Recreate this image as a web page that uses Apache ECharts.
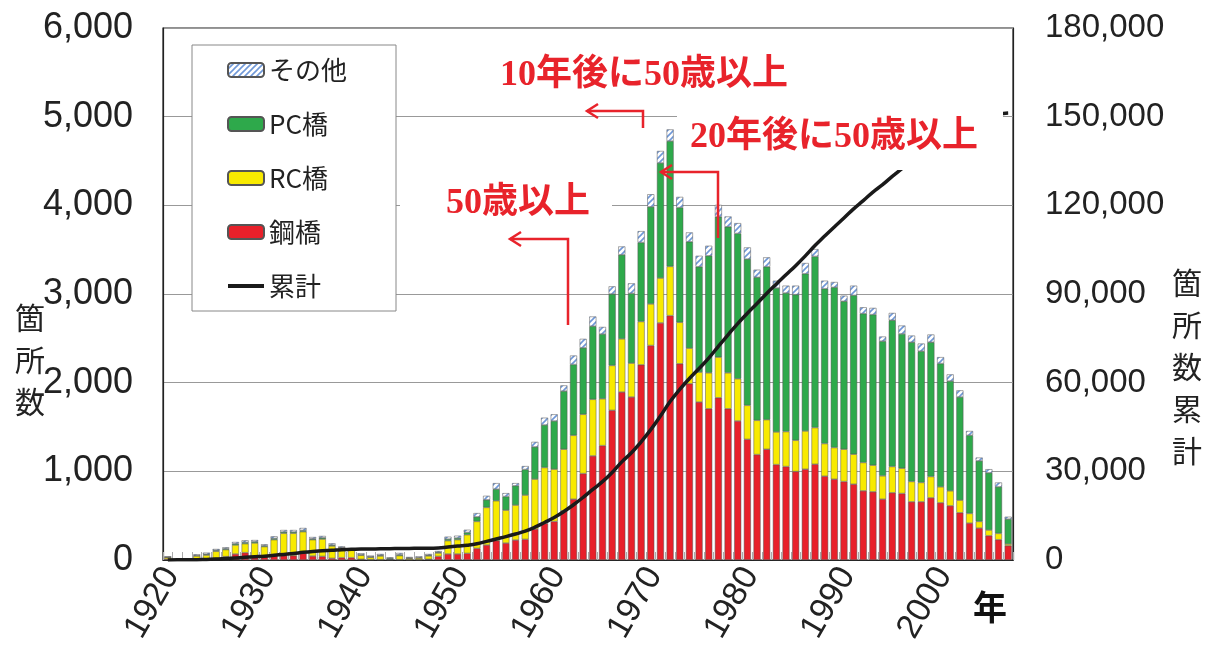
<!DOCTYPE html>
<html>
<head>
<meta charset="utf-8">
<script src="https://cdn.jsdelivr.net/npm/echarts@6/dist/echarts.min.js"></script>
<style>
  html, body { margin: 0; background: #fff; }
  #chart { width: 1209px; height: 648px; }
</style>
</head>
<body>
<div id="chart"></div>
<script>
// 建設年
const years = [
  "1920","1921","1922","1923","1924","1925","1926","1927","1928","1929",
  "1930","1931","1932","1933","1934","1935","1936","1937","1938","1939",
  "1940","1941","1942","1943","1944","1945","1946","1947","1948","1949",
  "1950","1951","1952","1953","1954","1955","1956","1957","1958","1959",
  "1960","1961","1962","1963","1964","1965","1966","1967","1968","1969",
  "1970","1971","1972","1973","1974","1975","1976","1977","1978","1979",
  "1980","1981","1982","1983","1984","1985","1986","1987","1988","1989",
  "1990","1991","1992","1993","1994","1995","1996","1997","1998","1999",
  "2000","2001","2002","2003","2004","2005","2006","2007"
];

// 鋼橋
const steel = [
  10, 0, 1, 8, 10, 19, 38, 68, 83, 34,
  38, 49, 49, 49, 75, 45, 41, 19, 26, 26,
  8, 4, 4, 4, 4, 4, 4, 8, 41, 68,
  68, 75, 131, 169, 218, 191, 225, 233, 349, 413,
  435, 555, 686, 975, 1174, 1290, 1688, 1894, 1838, 2201,
  2419, 2674, 2756, 2213, 1988, 1781, 1706, 1830, 1706, 1568,
  1361, 1189, 1249, 1076, 1054, 998, 1024, 1080, 945, 911,
  885, 855, 780, 769, 686, 758, 750, 656, 656, 701,
  645, 611, 533, 416, 360, 274, 229, 161
];

// RC橋
const rc = [
  20, 2, 1, 38, 45, 79, 79, 101, 101, 158,
  113, 180, 252, 252, 244, 184, 195, 139, 113, 83,
  45, 26, 41, 4, 45, 15, 19, 38, 38, 150,
  161, 210, 304, 424, 450, 371, 394, 499, 563, 630,
  589, 694, 720, 668, 638, 528, 506, 600, 382, 488,
  469, 506, 555, 468, 401, 338, 405, 458, 405, 476,
  383, 386, 334, 368, 394, 352, 431, 413, 368, 357,
  364, 338, 319, 300, 263, 296, 285, 229, 218, 240,
  180, 169, 142, 109, 75, 64, 71, 19
];

// PC橋
const pc = [
  2, 0, 0, 4, 10, 11, 11, 15, 15, 15,
  11, 15, 15, 15, 15, 11, 15, 11, 0, 0,
  8, 8, 8, 11, 11, 4, 4, 8, 8, 18,
  19, 26, 52, 86, 131, 154, 218, 289, 364, 480,
  544, 656, 799, 750, 825, 730, 806, 948, 787, 892,
  1095, 1298, 1414, 1294, 1200, 1189, 1320, 1582, 1647, 1639,
  1650, 1613, 1725, 1624, 1563, 1643, 1774, 1931, 1747, 1807,
  1669, 1792, 1680, 1699, 1519, 1650, 1515, 1571, 1481, 1515,
  1391, 1238, 1163, 881, 683, 645, 525, 281
];

// その他
const other = [
  9, 3, 3, 14, 18, 15, 15, 19, 23, 18,
  15, 23, 22, 22, 27, 19, 20, 19, 15, 15,
  14, 11, 15, 11, 19, 11, 14, 14, 14, 27,
  26, 30, 42, 45, 68, 38, 30, 38, 56, 82,
  75, 64, 101, 101, 109, 80, 86, 94, 113, 128,
  142, 135, 131, 120, 105, 123, 113, 135, 116, 116,
  131, 86, 105, 82, 83, 101, 120, 82, 90, 60,
  63, 109, 71, 75, 52, 82, 94, 75, 86, 87,
  72, 75, 75, 49, 37, 41, 49, 27
];

// 累計
const cumulative = [
  0, 100, 100, 100, 200, 300, 500, 700, 900, 1100,
  1300, 1600, 1900, 2200, 2600, 2900, 3100, 3300, 3500, 3600,
  3700, 3700, 3800, 3800, 3900, 3900, 4000, 4000, 4100, 4400,
  4700, 5000, 5500, 6300, 7100, 7900, 8800, 9800, 11100, 12700,
  14400, 16400, 18700, 21200, 23900, 26500, 29600, 33200, 36300, 40000,
  44100, 48700, 53600, 57700, 61400, 64800, 68300, 72300, 76200, 80000,
  83500, 86800, 90200, 93400, 96500, 99600, 102900, 106400, 109600, 112700,
  115700, 118800, 121600, 124500, 127000, 129800, 132400, 135000, 137400, 140000,
  142200, 144300, 146200, 147700, 148900, 149900, 150800, 151200
];

const RED = "#e8232b";
const NUM_FONT = '"Liberation Sans", Arial, sans-serif';
const JP_FONT = '"Noto Sans CJK JP", sans-serif';
const NOTE_FONT = 'bold 36px "Liberation Serif", "Noto Sans CJK JP", serif';

// 斜線パターン（その他）
function hatchPattern() {
  const c = document.createElement("canvas");
  c.width = 6;
  c.height = 6;
  const g = c.getContext("2d");
  g.fillStyle = "#ffffff";
  g.fillRect(0, 0, 6, 6);
  g.strokeStyle = "#6f98d8";
  g.lineWidth = 1.6;
  g.beginPath();
  g.moveTo(0, 6); g.lineTo(6, 0);
  g.moveTo(-3, 3); g.lineTo(3, -3);
  g.moveTo(3, 9); g.lineTo(9, 3);
  g.stroke();
  return { image: c, repeat: "repeat" };
}

function barSeries(name, data, color) {
  return {
    name: name,
    type: "bar",
    stack: "total",
    barWidth: 7,
    data: data,
    itemStyle: { color: color, borderColor: "#555", borderWidth: 0.5 },
    emphasis: { disabled: true },
  };
}

function arrow(points) {
  const head = points[points.length - 1];
  return [
    {
      type: "polyline",
      z: 100,
      shape: { points: points },
      style: { stroke: RED, lineWidth: 2.5, fill: null },
    },
    {
      type: "polyline",
      z: 100,
      shape: { points: [[head[0] + 11, head[1] - 7], head, [head[0] + 11, head[1] + 7]] },
      style: { stroke: RED, lineWidth: 2.5, fill: null },
    },
  ];
}

const myChart = echarts.init(document.getElementById("chart"));

const option = {
  animation: false,
  backgroundColor: "#fff",
  grid: {
    left: 163,
    right: 196,
    top: 28,
    bottom: 88,
    show: true,
    borderColor: "#222",
    borderWidth: 1.2,
  },
  legend: {
    orient: "vertical",
    left: 192,
    top: 45,
    padding: [12, 49, 12, 35],
    itemGap: 28,
    itemWidth: 36,
    itemHeight: 14,
    symbolKeepAspect: true,
    backgroundColor: "#fff",
    borderColor: "#888",
    borderWidth: 1,
    textStyle: { fontSize: 26, color: "#222", fontFamily: JP_FONT },
    data: [
      "その他",
      "PC橋",
      "RC橋",
      "鋼橋",
      { name: "累計", icon: "path://M0 0 L36 0 L36 4 L0 4 Z" },
    ],
  },
  xAxis: {
    type: "category",
    data: years,
    boundaryGap: true,
    axisLine: { lineStyle: { color: "#222", width: 1.2 } },
    axisTick: { show: true, inside: true, length: 8, interval: 0, lineStyle: { color: "#aaa" } },
    axisLabel: {
      interval: 9,
      rotate: 60,
      margin: 8,
      verticalAlign: "top",
      lineHeight: 8,
      fontSize: 34,
      color: "#222",
      fontFamily: NUM_FONT,
    },
  },
  yAxis: [
    {
      type: "value",
      min: 0,
      max: 6000,
      interval: 1000,
      axisLine: { show: true, lineStyle: { color: "#222", width: 1.2 } },
      axisTick: { show: false },
      splitLine: { lineStyle: { color: "#999" } },
      axisLabel: { fontSize: 36, margin: 30, color: "#222", fontFamily: NUM_FONT },
    },
    {
      type: "value",
      position: "right",
      min: 0,
      max: 180000,
      interval: 30000,
      axisLine: { show: true, lineStyle: { color: "#222", width: 1.2 } },
      axisTick: { show: false },
      splitLine: { show: false },
      axisLabel: { fontSize: 33, margin: 32, color: "#222", fontFamily: NUM_FONT },
    },
  ],
  series: [
    barSeries("鋼橋", steel, "#e8202a"),
    barSeries("RC橋", rc, "#f8ea00"),
    barSeries("PC橋", pc, "#2ea94b"),
    barSeries("その他", other, hatchPattern()),
    {
      name: "累計",
      type: "line",
      yAxisIndex: 1,
      data: cumulative,
      smooth: true,
      symbol: "none",
      z: 5,
      lineStyle: { color: "#1a1a1a", width: 3.5 },
      itemStyle: { color: "#1a1a1a" },
      emphasis: { disabled: true },
    },
  ],
  graphic: [
    // 注記の白地
    { type: "rect", z: 90, shape: { x: 677, y: 98, width: 326, height: 72 }, style: { fill: "#fff" } },
    { type: "rect", z: 90, shape: { x: 400, y: 184, width: 212, height: 40 }, style: { fill: "#fff" } },
    { type: "text", z: 100, x: 500, y: 58, style: { text: "10年後に50歳以上", font: NOTE_FONT, fill: RED, verticalAlign: "top" } },
    { type: "text", z: 100, x: 690, y: 120, style: { text: "20年後に50歳以上", font: NOTE_FONT, fill: RED, verticalAlign: "top" } },
    { type: "text", z: 100, x: 446, y: 186, style: { text: "50歳以上", font: NOTE_FONT, fill: RED, verticalAlign: "top" } },
    ...arrow([[643, 128], [643, 111], [587, 111]]),
    ...arrow([[718, 238], [718, 172], [661, 172]]),
    ...arrow([[568, 325], [568, 239], [510, 239]]),
    // 軸タイトル
    {
      type: "text", x: 30, y: 297,
      style: { text: "箇\n所\n数", font: '30px "Noto Sans CJK JP"', lineHeight: 42, fill: "#222", align: "center", verticalAlign: "top" },
    },
    {
      type: "text", x: 1187, y: 262,
      style: { text: "箇\n所\n数\n累\n計", font: '30px "Noto Sans CJK JP"', lineHeight: 42, fill: "#222", align: "center", verticalAlign: "top" },
    },
    {
      type: "text", x: 990, y: 607,
      style: { text: "年", font: 'bold 34px "Noto Sans CJK JP"', fill: "#111", align: "center", verticalAlign: "middle" },
    },
  ],
};

myChart.setOption(option);
</script>
</body>
</html>
